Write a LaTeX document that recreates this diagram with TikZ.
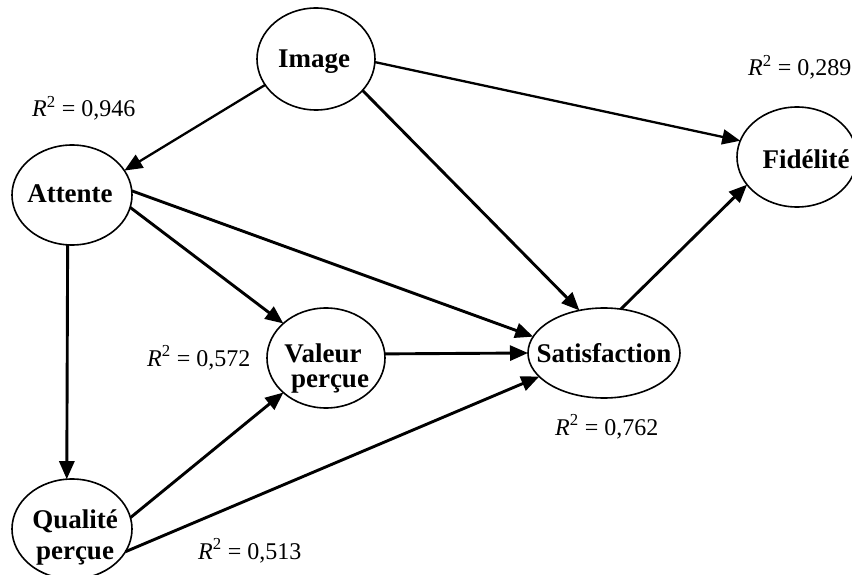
\documentclass[tikz,border=0pt]{standalone}
\usepackage{fontspec}
\setmainfont{Liberation Serif}
\usetikzlibrary{shapes.geometric,arrows.meta}
\begin{document}
\begin{tikzpicture}[x=1pt,y=-1pt,
  ell/.style={draw,ellipse,line width=1.6pt,inner sep=0pt,outer sep=0pt},
  lbl/.style={anchor=base,inner sep=0pt,font=\fontsize{27}{27}\selectfont\bfseries},
  rsq/.style={anchor=base west,inner sep=0pt,font=\fontsize{24}{24}\selectfont},
  conn/.style={line width=2.9pt,-{Triangle[length=18pt,width=15pt]}},
  connthin/.style={conn,line width=2.3pt}]
\fill[white] (0,0) rectangle (852,575);
\useasboundingbox (0,0) rectangle (852,575);

% ellipses
\node[ell,minimum width=118pt,minimum height=102pt] (img) at (316,59) {};
\node[ell,minimum width=120pt,minimum height=100pt] (att) at (72,195) {};
\node[ell,minimum width=120pt,minimum height=100pt] (fid) at (797,157) {};
\node[ell,minimum width=118pt,minimum height=100pt] (val) at (326,358) {};
\node[ell,minimum width=152pt,minimum height=90pt] (sat) at (604,353) {};
\node[ell,minimum width=120pt,minimum height=100pt] (qual) at (72,529) {};

% node texts
\node[lbl] (imgt) at (314,68) {Image};
\node[lbl] (attt) at (70,203) {Attente};
\node[lbl] (fidt) at (806,169) {Fidélité};
\node[lbl] (satt) at (604,362) {Satisfaction};
\node[lbl] (valt1) at (323,362) {Valeur};
\node[lbl] (valt2) at (330,387) {perçue};
\node[lbl] (qualt1) at (75,528) {Qualité};
\node[lbl] (qualt2) at (75,559) {perçue};

% R^2 labels
\node[rsq] (r1) at (32,117) {\textit{R}\textsuperscript{2} = 0,946};
\node[rsq] (r2) at (748,76) {\textit{R}\textsuperscript{2} = 0,289};
\node[rsq] (r3) at (147,366) {\textit{R}\textsuperscript{2} = 0,572};
\node[rsq] (r4) at (198,559) {\textit{R}\textsuperscript{2} = 0,513};
\node[rsq] (r5) at (555,435) {\textit{R}\textsuperscript{2} = 0,762};

% connectors
\draw[connthin] (img.207) -- (att.25);
\draw[connthin] (img.357) -- (fid.164.7);
\draw[conn] (img.326) -- (sat.120.4);
\draw[conn] (att.4) -- (sat.167.3);
\draw[conn] (att.348) -- (val.141);
\draw[conn] (att.265) -- (qual.96);
\draw[conn] (qual.11.7) -- (val.219);
\draw[conn] (qual.337) -- (sat.200);
\draw[conn] (val.4) -- (sat.west);
\draw[conn] (sat.69.6) -- (fid.209.7);
\end{tikzpicture}
\end{document}
